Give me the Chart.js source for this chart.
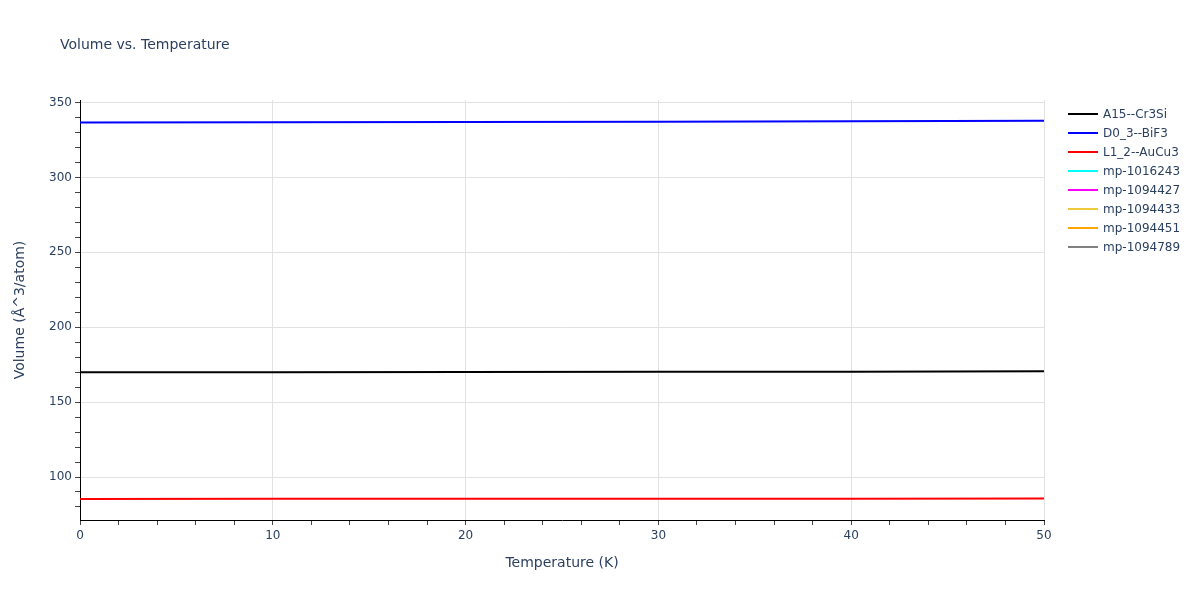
<!DOCTYPE html>
<html>
<head>
<meta charset="utf-8">
<script src="https://cdn.jsdelivr.net/npm/chart.js@4"></script>
<style>
  body { margin: 0; background: #fff; font-family: "DejaVu Sans", sans-serif; }
  #wrap { position: relative; width: 1200px; height: 600px; }
  #title { position: absolute; left: 60px; top: 36px; font-size: 14px; color: #2a3f5f; }
  #legend { position: absolute; left: 1068px; top: 104px; font-size: 12px; color: #2a3f5f; }
  .item { height: 19px; display: flex; align-items: center; }
  .swatch { width: 30px; height: 2px; margin-right: 5px; }
</style>
</head>
<body>
<div id="wrap">
  <canvas id="chart" width="1200" height="600"></canvas>
  <div id="title">Volume vs. Temperature</div>
  <div id="legend"></div>
</div>
<script>
// ---- data ----
const temperatures = [0, 10, 20, 30, 40, 50];
const seriesNames = ['A15--Cr3Si', 'D0_3--BiF3', 'L1_2--AuCu3', 'mp-1016243', 'mp-1094427', 'mp-1094433', 'mp-1094451', 'mp-1094789'];
const seriesColors = ['black', 'blue', 'red', 'cyan', 'magenta', 'rgb(238,202,59)', 'orange', 'gray'];
const cr3siVolume = [169.9, 169.95, 170.05, 170.2, 170.35, 170.6];
const bif3Volume = [336.7, 336.85, 337.0, 337.2, 337.5, 337.9];
const aucu3Volume = [85.4, 85.42, 85.45, 85.5, 85.55, 85.6];
const seriesValues = [cr3siVolume, bif3Volume, aucu3Volume, [], [], [], [], []];

const textColor = '#2a3f5f';
const gridColor = '#e2e2e2';
const fontFamily = 'DejaVu Sans';

const datasets = seriesNames.map((name, i) => ({
    label: name,
    data: seriesValues[i].map((v, j) => ({ x: temperatures[j], y: v })),
    borderColor: seriesColors[i],
    backgroundColor: seriesColors[i],
    borderWidth: 2,
    pointRadius: 0,
    tension: 0
}));

// ticks at every multiple of `step` inside the axis range (minor + major)
function stepTicks(axis, step) {
    const ticks = [];
    for (let v = Math.ceil(axis.min / step) * step; v <= axis.max + 1e-9; v += step) {
        ticks.push({ value: v });
    }
    axis.ticks = ticks;
}

const ctx = document.getElementById('chart').getContext('2d');
const chart = new Chart(ctx, {
    type: 'line',
    data: { datasets },
    options: {
        responsive: false,
        animation: false,
        layout: { padding: { top: 100, right: 156, bottom: 28, left: 0 } },
        plugins: {
            legend: { display: false },
            title: { display: false },
            tooltip: { enabled: false }
        },
        scales: {
            x: {
                type: 'linear',
                min: 0,
                max: 50,
                afterFit: scale => { scale.height = 52; },
                afterBuildTicks: axis => stepTicks(axis, 2),
                ticks: {
                    autoSkip: false,
                    maxRotation: 0,
                    color: textColor,
                    font: { family: fontFamily, size: 12 },
                    padding: 4,
                    callback: v => (v % 10 === 0 ? v : '')
                },
                grid: {
                    color: c => (c.tick && c.tick.value % 10 === 0 && c.tick.value !== 0 ? gridColor : 'transparent'),
                    tickColor: '#444',
                    tickLength: 5,
                    drawTicks: true
                },
                border: { color: '#000', width: 1 },
                title: {
                    display: true,
                    text: 'Temperature (K)',
                    color: textColor,
                    font: { family: fontFamily, size: 14 },
                    padding: { top: 6, bottom: 0 }
                }
            },
            y: {
                type: 'linear',
                min: 71.3,
                max: 351.7,
                afterFit: scale => { scale.width = 80; },
                afterBuildTicks: axis => stepTicks(axis, 10),
                ticks: {
                    autoSkip: false,
                    color: textColor,
                    font: { family: fontFamily, size: 12 },
                    padding: 3,
                    callback: v => (Math.round(v) % 50 === 0 ? Math.round(v) : '')
                },
                grid: {
                    color: c => (c.tick && Math.round(c.tick.value) % 50 === 0 ? gridColor : 'transparent'),
                    tickColor: '#444',
                    tickLength: 5,
                    drawTicks: true
                },
                border: { color: '#000', width: 1 },
                title: {
                    display: true,
                    text: 'Volume (Å^3/atom)',
                    color: textColor,
                    font: { family: fontFamily, size: 14 },
                    padding: { top: 12, bottom: 0 }
                }
            }
        }
    }
});

// ---- legend built from the chart's datasets ----
const legendEl = document.getElementById('legend');
chart.data.datasets.forEach(ds => {
    const item = document.createElement('div');
    item.className = 'item';
    const sw = document.createElement('span');
    sw.className = 'swatch';
    sw.style.background = ds.borderColor;
    const label = document.createElement('span');
    label.textContent = ds.label;
    item.appendChild(sw);
    item.appendChild(label);
    legendEl.appendChild(item);
});
</script>
</body>
</html>
